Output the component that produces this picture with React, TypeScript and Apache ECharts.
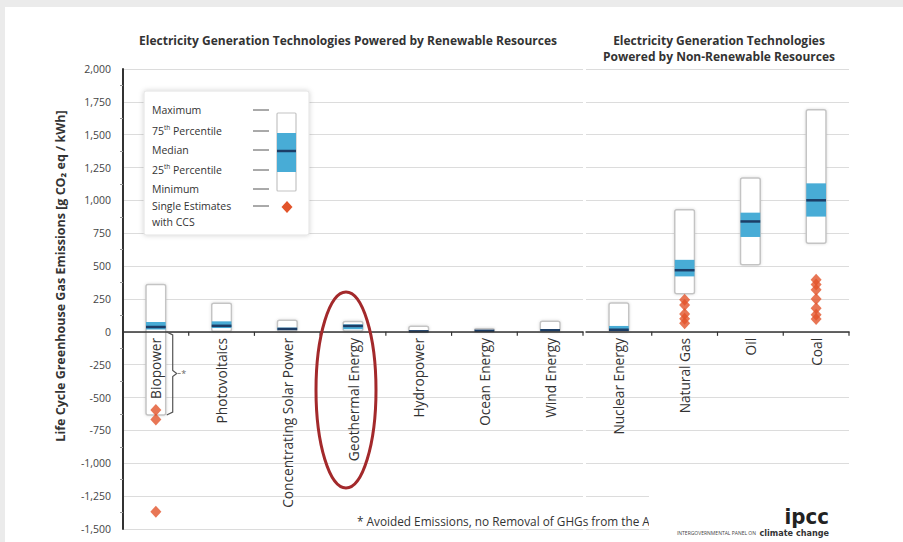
import React, { useEffect, useRef } from 'react';
import * as echarts from 'echarts';

// Life cycle GHG emissions, g CO2eq / kWh
const renewableTech = [
  'Biopower',
  'Photovoltaics',
  'Concentrating Solar Power',
  'Geothermal Energy',
  'Hydropower',
  'Ocean Energy',
  'Wind Energy',
];
const renewableMin = [-633, 5, 7, 6, 0, 2, 2];
const renewableP25 = [18, 29, 14, 20, 3, 6, 8];
const renewableMedian = [37, 46, 22, 45, 4, 8, 12];
const renewableP75 = [75, 80, 32, 57, 7, 9, 20];
const renewableMax = [360, 217, 89, 79, 43, 23, 81];

const fossilTech = ['Nuclear Energy', 'Natural Gas', 'Oil', 'Coal'];
const fossilMin = [1, 290, 510, 675];
const fossilP25 = [8, 422, 722, 877];
const fossilMedian = [16, 469, 840, 1001];
const fossilP75 = [45, 548, 907, 1130];
const fossilMax = [220, 930, 1170, 1689];

// Single estimates with carbon capture and storage
const ccsBiopower = [-594, -667, -1368];
const ccsNaturalGas = [245, 205, 135, 100, 65];
const ccsCoal = [396, 360, 320, 250, 180, 130, 98];

// Biopower range that counts avoided emissions
const avoidedRange = [0, -633];

const yMin = -1500;
const yMax = 2000;
const yStep = 250;

const FONT = '"Open Sans", "Noto Sans", sans-serif';
const NARROW = '"Liberation Sans Narrow", "DejaVu Sans Condensed", "Roboto", sans-serif';
const BLUE = '#48acd6';
const NAVY = '#1c3d66';
const ORANGE = '#e2542a';

const boxRows = (
  mins: number[],
  p25: number[],
  med: number[],
  p75: number[],
  maxs: number[]
) => mins.map((m, i) => [i, m, p25[i], med[i], p75[i], maxs[i]]);

const renderBox = (_params: any, api: any) => {
  const i = api.value(0);
  const w = api.size([1, 0])[0] * 0.3;
  const top = api.coord([i, api.value(5)]);
  const bottom = api.coord([i, api.value(1)]);
  const q3 = api.coord([i, api.value(4)]);
  const q1 = api.coord([i, api.value(2)]);
  const med = api.coord([i, api.value(3)]);
  const x = top[0] - w / 2;
  return {
    type: 'group',
    children: [
      {
        type: 'rect',
        shape: { x, y: top[1], width: w, height: bottom[1] - top[1], r: 2 },
        style: {
          fill: '#ffffff',
          stroke: '#c4c4c4',
          lineWidth: 1.5,
          shadowBlur: 3,
          shadowColor: 'rgba(0,0,0,0.15)',
        },
      },
      {
        type: 'rect',
        shape: { x, y: q3[1], width: w, height: Math.max(q1[1] - q3[1], 0) },
        style: { fill: BLUE },
      },
      {
        type: 'line',
        shape: { x1: x, y1: med[1], x2: x + w, y2: med[1] },
        style: { stroke: NAVY, lineWidth: 2.5 },
      },
    ],
  };
};

// Category name hanging below the zero line, plus the tick at the band's right edge
const makeLabelRenderer = (names: string[]) => (_params: any, api: any) => {
  const i = api.value(0);
  const band = api.size([1, 0])[0];
  const p = api.coord([i, 0]);
  const xr = p[0] + band / 2;
  return {
    type: 'group',
    children: [
      {
        type: 'line',
        shape: { x1: xr, y1: p[1], x2: xr, y2: p[1] + 4 },
        style: { stroke: '#333', lineWidth: 1.2 },
      },
      {
        type: 'text',
        x: p[0],
        y: p[1] + 6,
        rotation: Math.PI / 2,
        style: {
          text: names[i],
          fontSize: 13.7,
          fontFamily: FONT,
          fill: '#333',
          align: 'right',
          verticalAlign: 'middle',
        },
      },
    ],
  };
};

const renderBracket = (_params: any, api: any) => {
  const i = api.value(0);
  const w = api.size([1, 0])[0] * 0.3;
  const a = api.coord([i, api.value(1)]);
  const b = api.coord([i, api.value(2)]);
  const xr = a[0] + w / 2 + 7;
  const y0 = a[1];
  const y1 = b[1];
  const ym = (y0 + y1) / 2;
  return {
    type: 'group',
    children: [
      {
        type: 'polyline',
        shape: {
          points: [
            [xr - 6, y0],
            [xr, y0 + 3],
            [xr, ym - 3],
            [xr + 4, ym],
            [xr, ym + 3],
            [xr, y1 - 3],
            [xr - 6, y1],
          ],
        },
        style: { fill: 'none', stroke: '#555', lineWidth: 1.2 },
      },
      {
        type: 'line',
        shape: { x1: xr + 5, y1: ym, x2: xr + 8, y2: ym },
        style: { stroke: '#888', lineWidth: 1 },
      },
      {
        type: 'text',
        x: xr + 11,
        y: ym,
        style: {
          text: '*',
          fontSize: 9,
          fontFamily: FONT,
          fill: '#666',
          align: 'center',
          verticalAlign: 'middle',
        },
      },
    ],
  };
};

const categoryAxis = (data: string[], gridIndex: number) => ({
  type: 'category',
  gridIndex,
  data,
  z: 5,
  axisLine: { onZero: true, lineStyle: { color: '#333', width: 1.5 } },
  axisTick: { show: false },
  axisLabel: { show: false },
  splitLine: { show: false },
});

const valueAxis = (gridIndex: number, showLabels: boolean) => ({
  type: 'value',
  gridIndex,
  min: yMin,
  max: yMax,
  interval: yStep,
  axisLine: {
    show: showLabels,
    lineStyle: { color: '#333', width: 2 },
  },
  axisTick: { show: false },
  minorTick: {
    show: showLabels,
    splitNumber: 2,
    length: 3,
    lineStyle: { color: '#999' },
  },
  axisLabel: {
    show: showLabels,
    margin: 12,
    fontSize: 10.5,
    fontFamily: FONT,
    color: '#444',
    formatter: (v: number) => v.toLocaleString('en-US'),
  },
  splitLine: { show: true, lineStyle: { color: '#dcdcdc', width: 1 } },
});

const legendRows = [
  { y: 110, text: '{n|Maximum}' },
  { y: 131, text: '{n|75}{s|th}{n| Percentile}' },
  { y: 150, text: '{n|Median}' },
  { y: 170, text: '{n|25}{s|th}{n| Percentile}' },
  { y: 189, text: '{n|Minimum}' },
  { y: 206, text: '{n|Single Estimates}' },
];

const legendRich = {
  n: { fontSize: 10.5, fontFamily: FONT, fill: '#333', color: '#333', lineHeight: 14 },
  s: {
    fontSize: 6.5,
    fontFamily: FONT,
    fill: '#333',
    color: '#333',
    verticalAlign: 'top',
    lineHeight: 14,
  },
};

const legendGraphics: any[] = [
  {
    type: 'rect',
    shape: { x: 144, y: 91, width: 165, height: 144, r: 2 },
    style: {
      fill: '#ffffff',
      stroke: '#e2e2e2',
      lineWidth: 1,
      shadowBlur: 5,
      shadowColor: 'rgba(0,0,0,0.18)',
    },
    z: 20,
  },
  ...legendRows.map((r) => ({
    type: 'text',
    x: 152,
    y: r.y,
    z: 21,
    style: { text: r.text, rich: legendRich, verticalAlign: 'middle', align: 'left' },
  })),
  {
    type: 'text',
    x: 152,
    y: 222,
    z: 21,
    style: {
      text: 'with CCS',
      fontSize: 10.5,
      fontFamily: FONT,
      fill: '#333',
      verticalAlign: 'middle',
    },
  },
  ...legendRows.map((r) => ({
    type: 'line',
    z: 21,
    shape: { x1: 253, y1: r.y, x2: 269, y2: r.y },
    style: { stroke: '#555', lineWidth: 1 },
  })),
  {
    type: 'rect',
    z: 21,
    shape: { x: 277, y: 113, width: 19, height: 78, r: 1 },
    style: { fill: '#ffffff', stroke: '#c4c4c4', lineWidth: 1.2 },
  },
  {
    type: 'rect',
    z: 22,
    shape: { x: 277, y: 133, width: 19, height: 39 },
    style: { fill: BLUE },
  },
  {
    type: 'line',
    z: 23,
    shape: { x1: 277, y1: 151, x2: 296, y2: 151 },
    style: { stroke: NAVY, lineWidth: 2.5 },
  },
  {
    type: 'polygon',
    z: 23,
    shape: {
      points: [
        [287, 201],
        [292.5, 207],
        [287, 213],
        [281.5, 207],
      ],
    },
    style: { fill: ORANGE },
  },
];

const textGraphics: any[] = [
  {
    type: 'text',
    x: 348,
    y: 40,
    style: {
      text: 'Electricity Generation Technologies Powered by Renewable Resources',
      fontSize: 12,
      fontWeight: 'bold',
      fontFamily: FONT,
      fill: '#333',
      align: 'center',
      verticalAlign: 'middle',
    },
  },
  {
    type: 'text',
    x: 719,
    y: 48,
    style: {
      text: 'Electricity Generation Technologies\nPowered by Non-Renewable Resources',
      fontSize: 12,
      fontWeight: 'bold',
      fontFamily: FONT,
      fill: '#333',
      align: 'center',
      verticalAlign: 'middle',
      lineHeight: 16,
    },
  },
  {
    type: 'text',
    x: 60,
    y: 276,
    rotation: Math.PI / 2,
    style: {
      text: 'Life Cycle Greenhouse Gas Emissions [g CO₂ eq / kWh]',
      fontSize: 12.5,
      fontWeight: 'bold',
      fontFamily: FONT,
      fill: '#333',
      align: 'center',
      verticalAlign: 'middle',
    },
  },
  {
    type: 'text',
    x: 357,
    y: 521,
    z: 10,
    style: {
      text: '* Avoided Emissions, no Removal of GHGs from the Atmosphere',
      fontSize: 11.8,
      fontFamily: FONT,
      fill: '#333',
      verticalAlign: 'middle',
    },
  },
  {
    type: 'rect',
    z: 30,
    shape: { x: 649, y: 472, width: 254, height: 70 },
    style: { fill: '#ffffff' },
  },
  {
    type: 'text',
    x: 829,
    y: 527,
    z: 31,
    style: {
      text: 'ipcc',
      fontSize: 22,
      fontWeight: 'bold',
      fontFamily: NARROW,
      fill: '#222',
      align: 'right',
      verticalAlign: 'bottom',
    },
  },
  {
    type: 'text',
    x: 756,
    y: 533,
    z: 31,
    style: {
      text: 'INTERGOVERNMENTAL PANEL ON',
      fontSize: 5,
      fontFamily: FONT,
      fill: '#444',
      align: 'right',
      verticalAlign: 'middle',
    },
  },
  {
    type: 'text',
    x: 829,
    y: 533,
    z: 31,
    style: {
      text: 'climate change',
      fontSize: 9,
      fontWeight: 'bold',
      fontFamily: NARROW,
      fill: '#333',
      align: 'right',
      verticalAlign: 'middle',
    },
  },
  {
    type: 'ellipse',
    z: 40,
    shape: { cx: 346, cy: 390, rx: 30, ry: 98 },
    style: { fill: 'none', stroke: '#a3292b', lineWidth: 3 },
  },
];

const option: any = {
  animation: false,
  backgroundColor: 'transparent',
  grid: [
    { left: 123, top: 69, width: 460, bottom: 13, outerBoundsMode: 'none', containLabel: false },
    { left: 586, top: 69, width: 263, bottom: 13, outerBoundsMode: 'none', containLabel: false },
  ],
  xAxis: [categoryAxis(renewableTech, 0), categoryAxis(fossilTech, 1)],
  yAxis: [valueAxis(0, true), valueAxis(1, false)],
  series: [
    {
      type: 'custom',
      name: 'Renewable',
      xAxisIndex: 0,
      yAxisIndex: 0,
      renderItem: renderBox,
      encode: { x: 0, y: [1, 5] },
      data: boxRows(renewableMin, renewableP25, renewableMedian, renewableP75, renewableMax),
      z: 2,
    },
    {
      type: 'custom',
      name: 'Non-Renewable',
      xAxisIndex: 1,
      yAxisIndex: 1,
      renderItem: renderBox,
      encode: { x: 0, y: [1, 5] },
      data: boxRows(fossilMin, fossilP25, fossilMedian, fossilP75, fossilMax),
      z: 2,
    },
    {
      type: 'custom',
      name: 'Renewable labels',
      xAxisIndex: 0,
      yAxisIndex: 0,
      renderItem: makeLabelRenderer(renewableTech),
      encode: { x: 0 },
      data: renewableTech.map((_n, i) => [i]),
      z: 8,
      silent: true,
    },
    {
      type: 'custom',
      name: 'Non-Renewable labels',
      xAxisIndex: 1,
      yAxisIndex: 1,
      renderItem: makeLabelRenderer(fossilTech),
      encode: { x: 0 },
      data: fossilTech.map((_n, i) => [i]),
      z: 8,
      silent: true,
    },
    {
      type: 'custom',
      name: 'Avoided',
      xAxisIndex: 0,
      yAxisIndex: 0,
      renderItem: renderBracket,
      encode: { x: 0, y: [1, 2] },
      data: [[0, avoidedRange[0], avoidedRange[1]]],
      z: 6,
    },
    {
      type: 'scatter',
      name: 'CCS',
      xAxisIndex: 0,
      yAxisIndex: 0,
      symbol: 'diamond',
      symbolSize: [11, 12],
      itemStyle: { color: ORANGE },
      data: ccsBiopower.map((v) => [0, v]),
      z: 7,
    },
    {
      type: 'scatter',
      name: 'CCS',
      xAxisIndex: 1,
      yAxisIndex: 1,
      symbol: 'diamond',
      symbolSize: [11, 12],
      itemStyle: { color: ORANGE },
      data: [
        ...ccsNaturalGas.map((v) => [1, v]),
        ...ccsCoal.map((v) => [3, v]),
      ],
      z: 7,
    },
  ],
  graphic: [...legendGraphics, ...textGraphics],
};

export default function App() {
  const ref = useRef<HTMLDivElement>(null);
  useEffect(() => {
    const chart = echarts.init(ref.current!, null, { renderer: 'svg' });
    chart.setOption(option);
    return () => chart.dispose();
  }, []);
  return (
    <div
      style={{
        position: 'fixed',
        left: 0,
        top: 0,
        width: 903,
        height: 542,
        background: '#ebebeb',
        overflow: 'hidden',
      }}
    >
      <div
        style={{ position: 'absolute', left: 5, top: 7, right: 0, bottom: 0, background: '#ffffff' }}
      />
      <div ref={ref} style={{ position: 'absolute', left: 0, top: 0, width: 903, height: 542 }} />
    </div>
  );
}
